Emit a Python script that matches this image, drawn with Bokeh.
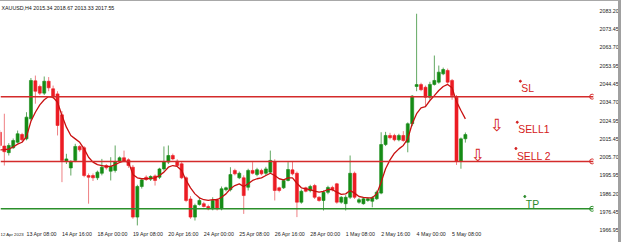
from bokeh.plotting import figure
from bokeh.models import (Range1d, FixedTicker, PrintfTickFormatter, Span, Label,
                          ColumnDataSource)
from bokeh.core.properties import value
from bokeh.embed import file_html
from bokeh.resources import INLINE

# ---------------- data (XAUUSD H4) ----------------
opens = [2018.8, 2011.5, 2008.0, 2010.6, 2013.5, 2017.6, 2015.3, 2025.9, 2046.0, 2043.0,
         2039.5, 2045.8, 2041.8, 2039.1, 2028.0, 2003.3, 1999.9, 2003.9, 2011.3, 2010.6,
         1995.9, 1995.9, 1994.7, 1997.1, 2001.2, 1998.2, 1998.6, 2003.3, 2005.3, 2004.2,
         2000.3, 1973.9, 1990.1, 1995.0, 1994.0, 1995.7, 1995.0, 1999.4, 2003.0, 2006.5,
         2003.5, 2002.1, 1994.7, 1983.5, 1973.9, 1980.6, 1981.0, 1979.5, 1978.3, 1983.0,
         1978.3, 1988.4, 1988.4, 1998.6, 1994.7, 1994.7, 1989.7, 1998.6, 1996.4, 1998.6,
         1997.1, 1997.7, 2003.3, 1989.4, 1989.4, 1993.3, 1998.9, 1997.1, 1981.8, 1989.4,
         1987.9, 1990.6, 1984.4, 1982.7, 1987.0, 1989.6, 1991.5, 1981.8, 1981.0, 1984.4,
         1997.1, 1981.8, 1981.0, 1982.7, 1982.3, 1983.6, 1986.6, 2012.3, 2017.1, 2017.1,
         2014.8, 2017.1, 2013.5, 2023.3, 2043.0, 2044.0, 2042.6, 2037.3, 2044.1, 2045.3,
         2049.7, 2051.5, 2046.2, 2037.3, 2003.3, 2015.34]
highs = [2020.0, 2028.6, 2013.0, 2015.5, 2019.7, 2018.5, 2029.4, 2047.5, 2048.8, 2044.0,
         2048.3, 2048.0, 2043.5, 2040.5, 2030.0, 2007.4, 2004.0, 2012.7, 2012.0, 2011.5,
         1997.0, 1997.0, 1998.5, 2004.7, 2002.0, 2005.6, 2011.8, 2006.0, 2009.1, 2005.0,
         2001.5, 1991.0, 1994.5, 1996.0, 1996.0, 1996.5, 2000.0, 2011.3, 2011.8, 2007.5,
         2004.5, 2003.0, 1995.5, 1985.0, 1981.0, 1984.4, 1982.0, 1980.5, 1984.4, 1984.0,
         1990.1, 1990.0, 2000.3, 1999.5, 1998.0, 1996.0, 1999.5, 2003.0, 2000.0, 1999.5,
         2000.5, 2009.1, 2004.5, 1990.0, 1994.0, 2003.0, 2003.3, 1998.0, 1988.5, 1990.0,
         1991.0, 1991.5, 1985.0, 1988.0, 1990.5, 1990.5, 1992.0, 1985.0, 1985.5, 2006.5,
         1998.0, 1984.0, 1984.5, 1984.5, 1985.0, 1988.0, 2018.8, 2019.0, 2018.5, 2018.0,
         2018.0, 2019.4, 2024.0, 2038.5, 2081.5, 2045.0, 2043.5, 2045.5, 2059.4, 2054.1,
         2053.0, 2052.5, 2047.0, 2038.5, 2016.0, 2018.67]
lows = [2010.5, 2001.2, 2006.5, 2010.0, 2013.0, 2014.0, 2014.5, 2025.0, 2033.9, 2038.5,
        2038.5, 2040.5, 2036.5, 2017.1, 1992.4, 2002.0, 1995.9, 2003.0, 2008.5, 1995.0,
        1981.0, 1993.0, 1993.5, 1996.0, 1999.0, 1993.3, 1997.5, 2002.5, 2002.8, 2000.0,
        1973.0, 1969.5, 1989.0, 1993.0, 1993.0, 1990.6, 1994.0, 1998.5, 2002.0, 2004.0,
        2000.5, 1994.0, 1981.8, 1973.0, 1972.1, 1980.0, 1979.0, 1977.5, 1977.5, 1977.4,
        1977.5, 1987.5, 1987.5, 1996.0, 1994.0, 1975.6, 1988.0, 1996.5, 1995.5, 1996.0,
        1996.0, 1997.0, 1982.7, 1987.0, 1988.8, 1992.8, 1996.0, 1973.9, 1981.0, 1987.0,
        1987.0, 1983.5, 1982.0, 1977.4, 1986.0, 1987.5, 1981.0, 1981.0, 1977.4, 1983.5,
        1983.5, 1981.0, 1980.5, 1982.0, 1979.1, 1983.0, 1986.0, 2011.5, 2015.0, 2014.0,
        2014.0, 2013.8, 2008.2, 2022.0, 2040.5, 2040.5, 2032.4, 2036.0, 2043.5, 2044.5,
        2049.0, 2044.5, 2036.0, 2001.5, 1999.5, 2013.33]
closes = [2011.8, 2008.5, 2011.8, 2014.4, 2018.0, 2014.8, 2026.8, 2046.2, 2040.5, 2039.5,
          2045.8, 2042.3, 2037.7, 2022.4, 2003.9, 2004.7, 2003.0, 2011.3, 2009.5, 1995.9,
          1995.0, 1994.7, 1997.7, 2000.3, 2000.0, 2000.7, 2003.3, 2005.3, 2003.5, 2001.2,
          1973.9, 1990.1, 1993.6, 1993.8, 1995.4, 1993.3, 1999.4, 2003.0, 2006.5, 2004.7,
          2001.2, 1994.7, 1982.7, 1973.9, 1980.0, 1982.7, 1979.5, 1978.3, 1982.7, 1978.3,
          1988.9, 1989.4, 1996.4, 1996.8, 1997.1, 1985.3, 1998.6, 1997.1, 1999.0, 1996.8,
          1999.4, 2003.9, 1988.0, 1988.0, 1993.3, 1999.1, 1996.8, 1981.8, 1987.6, 1987.6,
          1990.1, 1984.4, 1982.7, 1987.0, 1989.6, 1988.4, 1981.8, 1984.4, 1984.4, 1997.1,
          1984.4, 1983.1, 1983.6, 1983.6, 1984.1, 1987.1, 2012.3, 2017.1, 2015.9, 2014.8,
          2017.1, 2014.4, 2023.3, 2037.9, 2044.0, 2041.3, 2037.3, 2044.1, 2046.2, 2050.6,
          2052.0, 2045.3, 2038.2, 2003.3, 2015.3, 2017.55]
ma_values = [2009.5, 2009.6, 2009.9, 2011.0, 2012.5, 2013.5, 2016.5, 2024.6, 2029.4, 2033.3,
             2036.0, 2037.7, 2037.3, 2034.7, 2027.7, 2021.5, 2017.1, 2015.3, 2013.5, 2010.0,
             2005.6, 2003.0, 2001.7, 2001.2, 2000.7, 2000.7, 2001.7, 2002.8, 2003.5, 2003.0,
             1996.5, 1994.7, 1994.2, 1994.2, 1994.4, 1994.7, 1995.9, 1997.7, 2000.3, 2001.2,
             2000.7, 1998.6, 1993.3, 1989.4, 1986.2, 1984.1, 1983.1, 1982.7, 1983.1, 1983.1,
             1984.4, 1986.2, 1988.9, 1990.6, 1991.5, 1990.1, 1991.5, 1993.3, 1994.2, 1994.7,
             1995.9, 1997.1, 1995.9, 1994.2, 1993.6, 1994.7, 1994.7, 1991.8, 1989.4, 1988.9,
             1988.4, 1987.6, 1987.1, 1987.5, 1988.5, 1988.4, 1987.1, 1985.9, 1986.2, 1988.0,
             1986.6, 1984.8, 1984.4, 1984.1, 1984.1, 1986.2, 1992.4, 1999.5, 2004.2, 2007.7,
             2010.0, 2011.8, 2015.3, 2023.3, 2028.6, 2031.7, 2032.4, 2035.6, 2038.2, 2040.9,
             2043.0, 2044.1, 2042.3, 2035.0, 2030.3, 2025.9]

first_time_label = "12 Apr 2023"
time_tick_bars = [6, 14, 22, 30, 38, 46, 54, 62, 70, 78, 86, 94, 102]
time_tick_labels = ["13 Apr 08:00", "14 Apr 16:00", "18 Apr 00:00",
                    "19 Apr 08:00", "20 Apr 16:00", "24 Apr 00:00", "25 Apr 08:00",
                    "26 Apr 16:00", "28 Apr 00:00", "1 May 08:00", "2 May 16:00",
                    "4 May 00:00", "5 May 08:00"]
price_ticks = [2083.20, 2073.45, 2063.70, 2053.95, 2044.45, 2034.70, 2024.95, 2015.45,
               2005.70, 1995.95, 1986.20, 1976.45, 1966.95]

level_names = ["SL", "SELL 2", "TP"]
level_prices = [2037.63, 2003.38, 1978.30]
last_price = 2017.55
header = "XAUUSD,H4  2015.34 2018.67 2013.33 2017.55"

note_texts = ["SL", "SELL1", "SELL 2", "TP"]
note_bars = [117.4, 116.7, 116.4, 118.4]
note_prices = [2045.8, 2024.1, 2010.2, 1984.8]
arrow_bars = [112.1, 107.8]
arrow_prices = [2022.4, 2007.0]

# ---------------- styling ----------------
BULL, BULL_WICK = "#168c16", "#62a862"
BEAR, BEAR_WICK = "#ec1c24", "#ee8084"
RED_LINE, GREEN_LINE = "#d42b2b", "#2b8f2b"
level_colors = [RED_LINE, RED_LINE, GREEN_LINE]
note_colors = ["#d42020", "#d42020", "#d42020", "#2b8a2b"]
AX_FONT = "Liberation Sans"
AX_SIZE = "5.3px"

n = len(opens)
idx = list(range(n))
up = [c >= o for o, c in zip(opens, closes)]
src = ColumnDataSource(dict(
    x=idx, o=opens, h=highs, l=lows, c=closes,
    top=[max(o, c) for o, c in zip(opens, closes)],
    bot=[min(o, c) for o, c in zip(opens, closes)],
    body=[BULL if u else BEAR for u in up],
    wick=[BULL_WICK if u else BEAR_WICK for u in up],
))

FIG_W, FIG_H = 621, 242
x_start, x_end = 0.135, 133.9
y_bottom, y_top = 1959.94, 2087.98
px_per_unit = FIG_H / (y_top - y_bottom)

p = figure(width=FIG_W, height=FIG_H, output_backend="svg", toolbar_location=None,
           x_range=Range1d(x_start, x_end), y_range=Range1d(y_bottom, y_top),
           y_axis_location="right", min_border_left=0, min_border_right=27,
           min_border_top=0, min_border_bottom=0)
p.styles = {"border-top": "1px solid #a8a8a8", "border-right": "3px solid #a0a0a0"}
p.outline_line_color = None
p.grid.visible = False
p.xaxis.visible = False
p.background_fill_color = "white"
p.border_fill_color = "white"

# price scale
ya = p.yaxis[0]
ya.ticker = FixedTicker(ticks=price_ticks)
ya.formatter = PrintfTickFormatter(format="%.2f")
ya.axis_line_color = None
ya.major_tick_line_color = None
ya.minor_tick_line_color = None
ya.major_tick_out = 0
ya.major_tick_in = 0
ya.major_label_standoff = 6
ya.major_label_text_font = AX_FONT
ya.major_label_text_font_size = AX_SIZE
ya.major_label_text_color = "#222222"

# time scale (text starts at its bar, as in the terminal)
label_y = y_bottom + 9.5 / px_per_unit
p.text(time_tick_bars, [label_y] * len(time_tick_bars), text=time_tick_labels,
       text_color="#222222", text_font=value(AX_FONT), text_font_size=AX_SIZE,
       text_baseline="middle", text_align="left")
p.text([x_start], [label_y], text=[first_time_label], text_color="#222222",
       text_font=value(AX_FONT), text_font_size="4.3px",
       text_baseline="middle", text_align="left")

# level lines
for lp, lc in zip(level_prices, level_colors):
    p.add_layout(Span(location=lp, dimension="width", line_color=lc, line_width=1.5))

# candles
p.segment(x0="x", y0="l", x1="x", y1="h", line_color="wick", line_width=1, source=src)
p.vbar(x="x", width=0.68, top="top", bottom="bot", fill_color="body",
       line_color="body", line_width=0.6, source=src)

# moving average
p.line(idx, ma_values, line_color="#c81010", line_width=1.3)

# line end markers
p.scatter([x_end - 0.3] * len(level_prices), level_prices, marker="circle", size=5,
          fill_color="white", line_color=level_colors, line_width=1)

# notes
nsrc = ColumnDataSource(dict(x=note_bars, y=note_prices, t=note_texts, c=note_colors))
p.scatter("x", "y", source=nsrc, size=2, color="c", marker="circle")
p.text("x", "y", text="t", source=nsrc, text_color="c", text_font=value("Liberation Sans"),
       text_font_size="10.4px", text_baseline="top", text_align="left",
       x_offset=1, y_offset=2)
p.text(arrow_bars, arrow_prices, text=["\u21e9"] * len(arrow_bars), text_color="#d42020",
       text_font=value("DejaVu Sans"), text_font_size="17px",
       text_align="center", text_baseline="middle")

# price labels on the scale
for lp, lc in zip(level_prices, level_colors):
    p.add_layout(Label(x=597, y=lp, x_units="screen", y_units="data", text=f"{lp:.2f}",
                       text_color="white", text_font=AX_FONT, text_font_size=AX_SIZE,
                       text_baseline="middle", text_align="left",
                       background_fill_color=lc, padding=1))
p.add_layout(Label(x=597, y=last_price, x_units="screen", y_units="data",
                   text=f"{last_price:.2f}", text_color="white", text_font=AX_FONT,
                   text_font_size=AX_SIZE, text_baseline="middle", text_align="left",
                   background_fill_color="black", padding=1))

# header
p.add_layout(Label(x=1, y=FIG_H - 6, x_units="screen", y_units="screen", text=header,
                   text_color="#111111", text_font=AX_FONT, text_font_size=AX_SIZE,
                   text_baseline="middle", text_align="left"))

open("out.html", "w").write(file_html(p, INLINE))
